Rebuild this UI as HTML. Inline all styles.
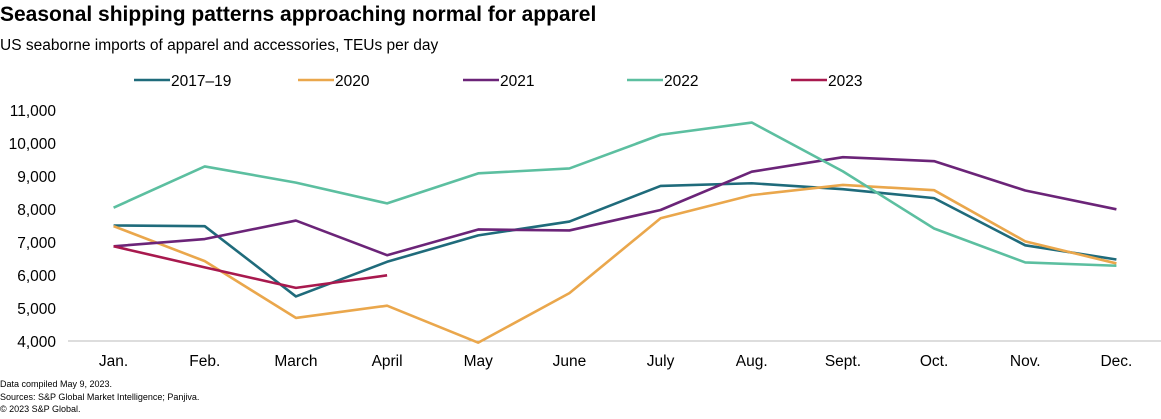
<!DOCTYPE html>
<html><head><meta charset="utf-8"><style>
body{margin:0;background:#fff;font-family:"Liberation Sans",Arial,sans-serif;}
svg{display:block}
</style></head><body>
<svg id="c" width="1161" height="419">
<text x="0" y="21" font-size="21" font-weight="bold" fill="#000">Seasonal shipping patterns approaching normal for apparel</text>
<text x="0" y="50" font-size="15.5" fill="#000">US seaborne imports of apparel and accessories, TEUs per day</text>
<g id="legend"></g>
<g id="axes"></g>
<g id="series"></g>
<text x="0" y="387" font-size="9" fill="#000">Data compiled May 9, 2023.</text>
<text x="0" y="400" font-size="9" fill="#000">Sources: S&amp;P Global Market Intelligence; Panjiva.</text>
<text x="0" y="412" font-size="9" fill="#000">© 2023 S&amp;P Global.</text>
</svg>
<script>
const categories=["Jan.","Feb.","March","April","May","June","July","Aug.","Sept.","Oct.","Nov.","Dec."];
const yTicks=[4000,5000,6000,7000,8000,9000,10000,11000];
const seriesNames=["2017–19","2020","2021","2022","2023"];
const seriesColors=["#1f6b7b","#eaa74c","#6b2478","#5cbfa0","#a8194e"];
const s2017_19=[7500,7480,5350,6400,7200,7620,8700,8780,8600,8330,6900,6470];
const s2020=[7480,6420,4700,5070,3950,5450,7720,8420,8730,8570,7020,6350];
const s2021=[6870,7090,7650,6600,7380,7350,7970,9130,9570,9450,8560,7990];
const s2022=[8040,9290,8800,8170,9080,9230,10250,10620,9140,7410,6380,6280];
const s2023=[6870,6230,5610,5990];
const allSeries=[s2017_19,s2020,s2021,s2022,s2023];
const NS="http://www.w3.org/2000/svg";
const x0=68,x1=1162,yTop=110,yBot=341,ymin=4000,ymax=11000;
const step=(x1-x0)/categories.length;
const xs=i=>x0+step*(i+0.5);
const ys=v=>yBot-(v-ymin)/(ymax-ymin)*(yBot-yTop);
function mk(t,a,p){const e=document.createElementNS(NS,t);for(const k in a)e.setAttribute(k,a[k]);p.appendChild(e);return e;}
const ax=document.getElementById('axes');
const base=mk('line',{x1:x0,x2:x1,y1:yBot,y2:yBot,stroke:'#bbb','stroke-width':1},ax);


yTicks.forEach(v=>{const t=mk('text',{x:56,y:ys(v)+6,'font-size':15.5,'text-anchor':'end',fill:'#000'},ax);t.textContent=v.toLocaleString('en-US');

});
categories.forEach((c,i)=>{const t=mk('text',{x:xs(i),y:366,'font-size':15.5,'text-anchor':'middle',fill:'#000'},ax);t.textContent=c;

});
const sg=document.getElementById('series');
allSeries.forEach((s,k)=>{const p=mk('polyline',{points:s.map((v,i)=>xs(i)+','+ys(v)).join(' '),fill:'none',stroke:seriesColors[k],'stroke-width':2.6,'stroke-linejoin':'round'},sg);

});
const lg=document.getElementById('legend');
const lx=[134,298,463,627,791];
seriesNames.forEach((n,k)=>{const l=mk('line',{x1:lx[k],x2:lx[k]+36,y1:80,y2:80,stroke:seriesColors[k],'stroke-width':2.6},lg);


const t=mk('text',{x:lx[k]+37,y:86,'font-size':15.5,fill:'#000'},lg);t.textContent=n;

});
</script>
</body></html>
